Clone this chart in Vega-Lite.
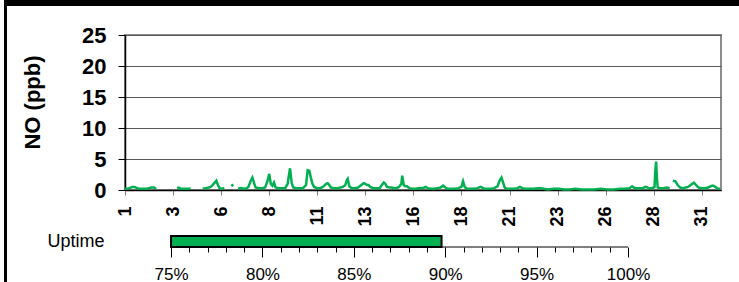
{
  "$schema": "https://vega.github.io/schema/vega-lite/v6.json",
  "padding": {"left": 4, "top": 0, "right": 0, "bottom": 0},
  "background": "white",
  "config": {"view": {"stroke": null}, "font": "Liberation Sans"},
  "spacing": 0,
  "hconcat": [
    {
      "width": 3, "height": 282,
      "view": {"fill": "black"},
      "data": {"values": [{}]},
      "mark": {"type": "rect", "color": "black"},
      "encoding": {}
    },
    {
      "spacing": 17,
      "vconcat": [
        {
          "width": 732, "height": 6,
          "view": {"fill": "black"},
          "data": {"values": [{}]},
          "mark": {"type": "rect", "color": "black"},
          "encoding": {}
        },
        {
          "spacing": 12,
          "hconcat": [
            {
              "width": 1, "height": 10,
              "data": {"values": [{}]},
              "mark": {"type": "rect", "opacity": 0},
              "encoding": {}
            },
            {
              "spacing": 4,
              "vconcat": [
                {
                  "width": 596, "height": 155,
                  "view": {"stroke": "#8c8c8c", "strokeWidth": 2},
                  "data": {"values": [
                    {"hour":0,"no":0.2},{"hour":3,"no":0.2},{"hour":6,"no":0.3},{"hour":9,"no":0.5},{"hour":12,"no":0.5},{"hour":15,"no":0.3},{"hour":19,"no":0.2},{"hour":23,"no":0.2},{"hour":27,"no":0.2},{"hour":30,"no":0.3},{"hour":33,"no":0.4},{"hour":36,"no":0.4},{"hour":39,"no":0.2},{"hour":40,"no":null},
                    {"hour":65,"no":0.3},{"hour":67,"no":0.4},{"hour":70,"no":0.2},{"hour":74,"no":0.2},{"hour":78,"no":0.2},{"hour":82,"no":0.2},{"hour":83,"no":null},
                    {"hour":97,"no":0.2},{"hour":101,"no":0.3},{"hour":105,"no":0.4},{"hour":108,"no":0.6},{"hour":110,"no":0.9},{"hour":112,"no":1.2},{"hour":114,"no":1.5},{"hour":116,"no":0.8},{"hour":118,"no":0.3},{"hour":121,"no":0.2},{"hour":124,"no":0.3},{"hour":125,"no":null},
                    {"hour":133,"no":0.6},{"hour":135,"no":0.9},{"hour":136,"no":null},
                    {"hour":141,"no":0.2},{"hour":145,"no":0.3},{"hour":149,"no":0.2},{"hour":152,"no":0.3},{"hour":154,"no":0.5},{"hour":157,"no":1.5},{"hour":159,"no":2.0},{"hour":161,"no":1.2},{"hour":163,"no":0.4},{"hour":167,"no":0.3},{"hour":171,"no":0.3},{"hour":175,"no":0.4},{"hour":178,"no":1.5},{"hour":180,"no":2.6},{"hour":182,"no":1.0},{"hour":184,"no":0.7},{"hour":186,"no":1.2},{"hour":188,"no":0.4},{"hour":192,"no":0.3},{"hour":196,"no":0.3},{"hour":200,"no":0.3},{"hour":203,"no":1.0},{"hour":206,"no":3.5},{"hour":208,"no":1.2},{"hour":210,"no":0.4},{"hour":214,"no":0.3},{"hour":218,"no":0.3},{"hour":222,"no":0.3},{"hour":226,"no":0.8},{"hour":228,"no":3.2},{"hour":230,"no":3.1},{"hour":232,"no":2.0},{"hour":234,"no":1.0},{"hour":236,"no":0.5},{"hour":240,"no":0.3},{"hour":244,"no":0.3},{"hour":248,"no":0.6},{"hour":251,"no":1.0},{"hour":253,"no":1.1},{"hour":255,"no":0.8},{"hour":257,"no":0.4},{"hour":261,"no":0.3},{"hour":265,"no":0.3},{"hour":269,"no":0.4},{"hour":272,"no":0.5},{"hour":275,"no":0.8},{"hour":277,"no":1.6},{"hour":278,"no":1.8},{"hour":280,"no":0.6},{"hour":283,"no":0.3},{"hour":287,"no":0.3},{"hour":291,"no":0.4},{"hour":295,"no":0.8},{"hour":298,"no":1.1},{"hour":300,"no":1.0},{"hour":302,"no":0.8},{"hour":304,"no":0.8},{"hour":306,"no":0.5},{"hour":310,"no":0.3},{"hour":314,"no":0.3},{"hour":318,"no":0.3},{"hour":320,"no":0.7},{"hour":323,"no":1.2},{"hour":325,"no":1.0},{"hour":327,"no":0.5},{"hour":330,"no":0.4},{"hour":333,"no":0.4},{"hour":336,"no":0.3},{"hour":339,"no":0.3},{"hour":342,"no":0.5},{"hour":345,"no":1.0},{"hour":346,"no":2.3},{"hour":348,"no":0.8},{"hour":350,"no":0.6},{"hour":352,"no":0.6},{"hour":355,"no":0.3},{"hour":359,"no":0.2},{"hour":363,"no":0.2},{"hour":366,"no":0.3},{"hour":369,"no":0.3},{"hour":372,"no":0.3},{"hour":375,"no":0.5},{"hour":378,"no":0.3},{"hour":382,"no":0.2},{"hour":386,"no":0.2},{"hour":390,"no":0.3},{"hour":394,"no":0.4},{"hour":397,"no":0.7},{"hour":400,"no":0.4},{"hour":403,"no":0.2},{"hour":408,"no":0.2},{"hour":412,"no":0.2},{"hour":416,"no":0.3},{"hour":420,"no":0.5},{"hour":422,"no":1.4},{"hour":424,"no":0.5},{"hour":427,"no":0.2},{"hour":431,"no":0.2},{"hour":435,"no":0.2},{"hour":440,"no":0.3},{"hour":444,"no":0.5},{"hour":446,"no":0.4},{"hour":449,"no":0.2},{"hour":453,"no":0.2},{"hour":457,"no":0.2},{"hour":461,"no":0.3},{"hour":465,"no":0.6},{"hour":468,"no":1.6},{"hour":470,"no":2.0},{"hour":472,"no":1.2},{"hour":474,"no":0.4},{"hour":477,"no":0.2},{"hour":481,"no":0.2},{"hour":485,"no":0.2},{"hour":490,"no":0.3},{"hour":493,"no":0.5},{"hour":496,"no":0.3},{"hour":500,"no":0.2},{"hour":505,"no":0.2},{"hour":510,"no":0.2},{"hour":515,"no":0.3},{"hour":519,"no":0.3},{"hour":523,"no":0.2},{"hour":528,"no":0.1},{"hour":535,"no":0.2},{"hour":542,"no":0.2},{"hour":548,"no":0.1},{"hour":555,"no":0.1},{"hour":562,"no":0.2},{"hour":570,"no":0.1},{"hour":578,"no":0.1},{"hour":586,"no":0.1},{"hour":594,"no":0.2},{"hour":602,"no":0.1},{"hour":610,"no":0.1},{"hour":618,"no":0.2},{"hour":624,"no":0.2},{"hour":630,"no":0.3},{"hour":633,"no":0.6},{"hour":635,"no":0.4},{"hour":638,"no":0.3},{"hour":642,"no":0.3},{"hour":646,"no":0.3},{"hour":650,"no":0.5},{"hour":654,"no":0.3},{"hour":658,"no":0.3},{"hour":661,"no":0.5},{"hour":662,"no":3.0},{"hour":663,"no":4.6},{"hour":664,"no":2.0},{"hour":665,"no":0.4},{"hour":668,"no":0.3},{"hour":672,"no":0.3},{"hour":676,"no":0.4},{"hour":680,"no":0.3},{"hour":682,"no":null},
                    {"hour":684,"no":1.5},{"hour":687,"no":1.4},{"hour":690,"no":0.8},{"hour":693,"no":0.4},{"hour":696,"no":0.3},{"hour":700,"no":0.4},{"hour":703,"no":0.5},{"hour":707,"no":0.9},{"hour":710,"no":1.2},{"hour":713,"no":0.8},{"hour":716,"no":0.4},{"hour":720,"no":0.3},{"hour":724,"no":0.3},{"hour":728,"no":0.4},{"hour":731,"no":0.6},{"hour":734,"no":0.7},{"hour":737,"no":0.5},{"hour":740,"no":0.2},{"hour":743,"no":0.2}
                  ]},
                  "mark": {"type": "line", "color": "#00b050", "strokeWidth": 2.5},
                  "encoding": {
                    "x": {
                      "field": "hour", "type": "quantitative",
                      "scale": {"domain": [0, 744], "nice": false, "zero": false},
                      "axis": {
                        "title": null,
                        "values": [0, 60, 120, 180, 240, 300, 360, 420, 480, 540, 600, 660, 720],
                        "labelExpr": "floor(datum.value / 24) + 1",
                        "labelAngle": 270, "labelAlign": "right", "labelBaseline": "middle",
                        "labelFontSize": 18, "labelFontWeight": "bold", "labelColor": "black",
                        "labelPadding": 11, "labelFlush": false, "labelOverlap": false,
                        "tickSize": 5, "tickColor": "#808080",
                        "domainColor": "black", "domainWidth": 1.5, "grid": false
                      }
                    },
                    "y": {
                      "field": "no", "type": "quantitative",
                      "scale": {"domain": [0, 25], "nice": false},
                      "axis": {
                        "title": "NO (ppb)",
                        "values": [0, 5, 10, 15, 20, 25],
                        "labelFontSize": 22, "labelFontWeight": "bold", "labelColor": "black",
                        "labelPadding": 12, "tickSize": 7, "tickColor": "black",
                        "domainColor": "black", "domainWidth": 1.5,
                        "grid": true, "gridColor": "#595959", "gridWidth": 1,
                        "titleFontSize": 22, "titleFontWeight": "bold", "titleColor": "black",
                        "titlePadding": 37, "titleY": 67
                      }
                    }
                  }
                },
                {
                  "width": 503, "height": 11,
                  "data": {"values": [{"label": "Uptime", "start": 75, "uptime": 89.8, "lo": 75, "hi": 100}]},
                  "layer": [
                    {
                      "mark": {"type": "bar", "color": "#00b050", "stroke": "black", "strokeWidth": 2},
                      "encoding": {
                        "x": {
                          "field": "start", "type": "quantitative",
                          "scale": {"domain": [72.48, 100], "nice": false, "zero": false},
                          "axis": {
                            "orient": "bottom", "title": null,
                            "values": [75, 80, 85, 90, 95, 100],
                            "labelExpr": "datum.value + '%'",
                            "labelFontSize": 17, "labelColor": "black", "labelPadding": 9,
                            "labelFlush": false,
                            "tickSize": 10, "tickColor": "black", "domain": false, "grid": false
                          }
                        },
                        "x2": {"field": "uptime"},
                        "y": {
                          "field": "label", "type": "nominal",
                          "scale": {"paddingInner": 0, "paddingOuter": 0},
                          "axis": {
                            "title": null, "ticks": false, "domain": false,
                            "labelFontSize": 18, "labelColor": "black", "labelPadding": 21
                          }
                        }
                      }
                    },
                    {
                      "mark": {"type": "rule", "color": "black", "strokeWidth": 1},
                      "encoding": {
                        "x": {
                          "field": "lo", "type": "quantitative",
                          "axis": {
                            "orient": "bottom", "title": null,
                            "values": [76, 77, 78, 79, 81, 82, 83, 84, 86, 87, 88, 89, 91, 92, 93, 94, 96, 97, 98, 99],
                            "labels": false, "tickSize": 5, "tickColor": "black", "domain": false, "grid": false
                          }
                        },
                        "x2": {"field": "hi"},
                        "y": {"field": "label", "type": "nominal", "bandPosition": 1}
                      }
                    }
                  ],
                  "resolve": {"axis": {"x": "independent"}}
                }
              ]
            }
          ]
        }
      ]
    }
  ]
}
